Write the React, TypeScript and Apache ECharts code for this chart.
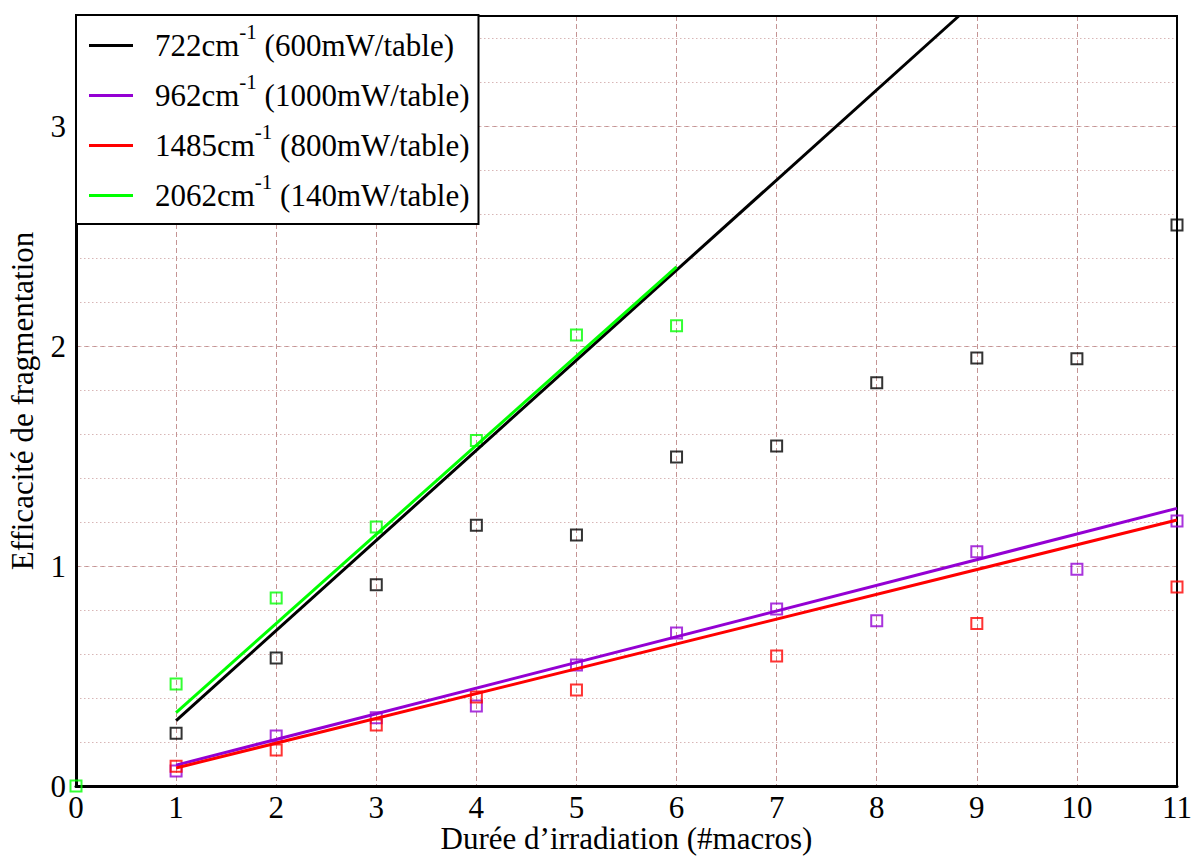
import React, { useEffect, useRef } from 'react';
import * as echarts from 'echarts';

// Legend / series metadata
const wavenumbers = ['722', '962', '1485', '2062'];
const powers = ['600', '1000', '800', '140'];
const colors = ['#000000', '#9400D3', '#FF0000', '#00FF00'];

// Measured points [duration (#macros), efficiency]
const pts722 = [[1, 0.24], [2, 0.582], [3, 0.915], [4, 1.185], [5, 1.141], [6, 1.495], [7, 1.546], [8, 1.833], [9, 1.945], [10, 1.942], [11, 2.55]];
const pts962 = [[1, 0.068], [2, 0.227], [3, 0.31], [4, 0.364], [5, 0.55], [6, 0.695], [7, 0.805], [8, 0.751], [9, 1.065], [10, 0.985], [11, 1.205]];
const pts1485 = [[1, 0.09], [2, 0.164], [3, 0.277], [4, 0.405], [5, 0.436], [7, 0.591], [9, 0.739], [11, 0.905]];
const pts2062 = [[0, 0], [1, 0.464], [2, 0.855], [3, 1.177], [4, 1.57], [5, 2.05], [6, 2.092]];

// Linear fits (end points)
const fit722 = [[1, 0.297], [8.82, 3.5]];
const fit962 = [[1, 0.095], [11, 1.262]];
const fit1485 = [[1, 0.082], [11, 1.209]];
const fit2062 = [[1, 0.333], [6, 2.36]];

const pointSets = [pts722, pts962, pts1485, pts2062];
const fitSets = [fit722, fit962, fit1485, fit2062];

// Axes
const xMin = 0, xMax = 11, xStep = 1;
const yMin = 0, yMax = 3.5, yStep = 1, yMinorStep = 0.2;
const xTitle = 'Durée d’irradiation (#macros)';
const yTitle = 'Efficacité de fragmentation';

const FONT = "'Liberation Serif', 'Times New Roman', serif";
const FS = 31;
const GRID_DASH = '#c49494';
const GRID_DOT = '#d8b6b6';

const legendName = (i: number) => `${wavenumbers[i]}cm-1 (${powers[i]}mW/table)`;

export default function App() {
  const ref = useRef<HTMLDivElement>(null);
  useEffect(() => {
    document.body.style.margin = '0';
    if (!ref.current) return;
    const chart = echarts.init(ref.current, null, { renderer: 'svg', width: 1197, height: 856 });

    const series: any[] = [];
    pointSets.forEach((pts, i) => {
      series.push({
        name: 'pts' + wavenumbers[i],
        type: 'scatter',
        data: pts,
        symbol: 'rect',
        symbolSize: 11,
        itemStyle: { color: 'rgba(0,0,0,0)', borderColor: colors[i], borderWidth: 2 },
        z: 3,
      });
    });
    fitSets.forEach((fit, i) => {
      series.push({
        name: legendName(i),
        type: 'line',
        data: fit,
        color: colors[i],
        showSymbol: false,
        symbol: 'none',
        lineStyle: { color: colors[i], width: 3 },
        clip: true,
        z: 4,
      });
    });

    chart.setOption({
      animation: false,
      backgroundColor: '#ffffff',
      textStyle: { fontFamily: FONT },
      grid: {
        left: 76,
        width: 1101,
        top: 16,
        height: 770,
        outerBoundsMode: 'none',
        containLabel: false,
        show: true,
        borderColor: '#000',
        borderWidth: 2,
        z: 1,
      },
      legend: {
        data: wavenumbers.map((_, i) => legendName(i)),
        orient: 'vertical',
        left: 76,
        top: 15,
        backgroundColor: '#ffffff',
        borderColor: '#000',
        borderWidth: 2,
        padding: [6, 9, 13, 13],
        itemGap: 10,
        itemWidth: 44,
        itemHeight: 3,
        icon: 'rect',
        z: 10,
        formatter: (name: string) => {
          const i = wavenumbers.findIndex((_, k) => legendName(k) === name);
          return `{g| }{a|${wavenumbers[i]}cm}{s|-1}{a| (${powers[i]}mW/table)}`;
        },
        textStyle: {
          fontFamily: FONT,
          fontSize: FS,
          color: '#000',
          rich: {
            g: { width: 17, fontSize: FS, fontFamily: FONT },
            a: { fontSize: FS, fontFamily: FONT, color: '#000' },
            s: { fontSize: 21, fontFamily: FONT, color: '#000', padding: [0, 0, 28, 0] },
          },
        },
      },
      xAxis: {
        type: 'value',
        min: xMin,
        max: xMax,
        interval: xStep,
        name: xTitle,
        nameLocation: 'middle',
        nameGap: 37,
        nameMoveOverlap: false,
        nameTextStyle: { fontSize: FS, fontFamily: FONT, color: '#000', lineHeight: 30 },
        axisLine: { show: true, lineStyle: { color: '#000', width: 3 } },
        axisTick: { show: false },
        axisLabel: { fontSize: FS, fontFamily: FONT, color: '#000', margin: 6, lineHeight: 30 },
        splitLine: { show: true, lineStyle: { color: GRID_DASH, width: 1, type: [5, 3] } },
        z: 0,
      },
      yAxis: [
        {
          type: 'value',
          min: yMin,
          max: yMax,
          interval: yStep,
          position: 'left',
          name: yTitle,
          nameLocation: 'middle',
          nameGap: 38,
          nameTextStyle: { fontSize: FS, fontFamily: FONT, color: '#000' },
          axisLine: { show: true, lineStyle: { color: '#000', width: 3 } },
          axisTick: { show: false },
          axisLabel: {
            fontSize: FS,
            fontFamily: FONT,
            color: '#000',
            margin: 10,
            formatter: (v: number) => (Number.isInteger(v) ? String(v) : ''),
          },
          splitLine: { show: true, lineStyle: { color: GRID_DASH, width: 1, type: [5, 3] } },
          z: 0,
        },
        {
          type: 'value',
          min: yMin,
          max: yMax,
          interval: yMinorStep,
          position: 'left',
          axisLine: { show: false },
          axisTick: { show: false },
          axisLabel: { show: false },
          splitLine: { show: true, lineStyle: { color: GRID_DOT, width: 1, type: [1.5, 2.5] } },
          z: 0,
        },
      ],
      series,
    });
    return () => chart.dispose();
  }, []);
  return <div ref={ref} style={{ width: 1197, height: 856 }} />;
}
